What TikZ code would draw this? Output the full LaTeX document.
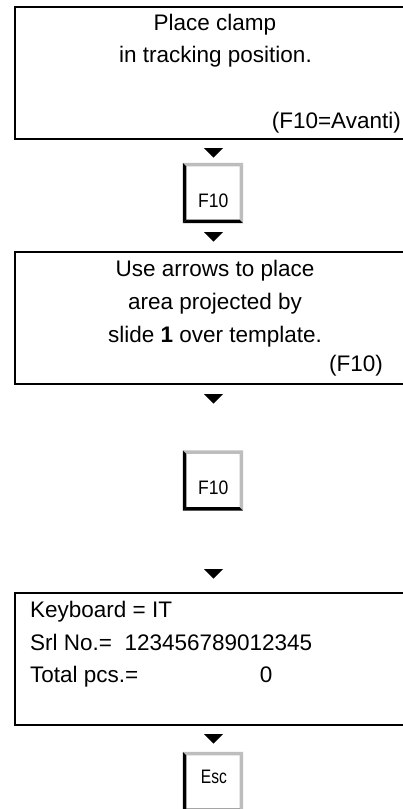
\documentclass[tikz,border=0pt]{standalone}
\usepackage{fontspec}
\setmainfont{Liberation Sans}
\usetikzlibrary{calc}
\definecolor{keylight}{gray}{0.74}
\newcommand{\keyframe}[1]{%
  \fill[keylight] (#1.north west) -- (#1.north east) -- ($(#1.north east)+(-3.5,3.5)$) -- ($(#1.north west)+(3.5,3.5)$) -- cycle;
  \fill[keylight] (#1.north east) -- (#1.south east) -- ($(#1.south east)+(-3.5,-3.5)$) -- ($(#1.north east)+(-3.5,3.5)$) -- cycle;
  \fill[black] (#1.north west) -- ($(#1.north west)+(3.5,3.5)$) -- ($(#1.south west)+(3.5,-3.5)$) -- (#1.south west) -- cycle;
  \fill[black] (#1.south west) -- ($(#1.south west)+(3.5,-3.5)$) -- ($(#1.south east)+(-3.5,-3.5)$) -- (#1.south east) -- cycle;
}
\newcommand{\downtip}[1]{\fill[black] ($(#1)+(-9.5,0)$) -- ++(19,0) -- ++(-9.5,9.5) -- cycle;}
\begin{document}
\begin{tikzpicture}[x=1pt,y=-1pt,
  screen/.style={draw=black,line width=2pt,minimum width=398pt,minimum height=132pt,inner sep=0pt},
  txt/.style={font=\fontsize{22.5}{27}\selectfont,inner sep=0pt,anchor=base},
  keytxt/.style={font=\fontsize{19.5}{22}\selectfont,inner sep=0pt,anchor=base},
  keybox/.style={minimum width=60pt,minimum height=60pt,inner sep=0pt}]
\useasboundingbox (0,0) rectangle (403,809);
\clip (0,0) rectangle (403,809);
\fill[white] (0,0) rectangle (403,809);

% screens
\node[screen] (s1) at (214,73) {};
\node[screen] (s2) at (214,317.5) {};
\node[screen] (s3) at (214,659) {};

% keys
\node[keybox] (k1) at (213,193) {};
\node[keybox] (k2) at (213,480.5) {};
\node[keybox] (k3) at (213,782) {};
\keyframe{k1}
\keyframe{k2}
\keyframe{k3}

% connectors (arrow heads)
\coordinate (t1) at ($(s1.south)+(-0.5,8)$);
\coordinate (t2) at ($(k1.south)+(0.5,9)$);
\coordinate (t3) at ($(s2.south)+(-0.5,9.5)$);
\coordinate (t4) at ($(s3.north)+(-0.5,-23)$);
\coordinate (t5) at ($(s3.south)+(-0.5,8)$);
\downtip{t1}
\downtip{t2}
\downtip{t3}
\downtip{t4}
\downtip{t5}

% screen 1 text
\node[txt] (a1) at (215,30.5) {Place clamp};
\node[txt] (a2) at (215.5,62) {in tracking position.};
\node[txt,anchor=base east] (a3) at (401,128) {(F10=Avanti)};

% key 1 text
\node[keytxt] (ka) at (213.3,207) {\scalebox{0.9}[1]{F10}};

% screen 2 text
\node[txt] (b1) at (215,276) {Use arrows to place};
\node[txt] (b2) at (215,309) {area projected by};
\node[txt] (b3) at (215,342) {slide \textbf{1} over template.};
\node[txt,anchor=base east] (b4) at (383,371) {(F10)};

% key 2 text
\node[keytxt] (kb) at (213.3,494.5) {\scalebox{0.9}[1]{F10}};

% screen 3 text
\node[txt,anchor=base west] (c1) at (30,617.5) {Keyboard = IT};
\node[txt,anchor=base west] (c2) at (30,650) {Srl No.=\ \ 123456789012345};
\node[txt,anchor=base west] (c3) at (30,682.5) {Total pcs.=};
\node[txt,anchor=base west] (c4) at (259.7,682.5) {0};

% key 3 text
\node[keytxt] (kc) at (214,783.5) {\scalebox{0.8}[1]{Esc}};
\end{tikzpicture}
\end{document}
